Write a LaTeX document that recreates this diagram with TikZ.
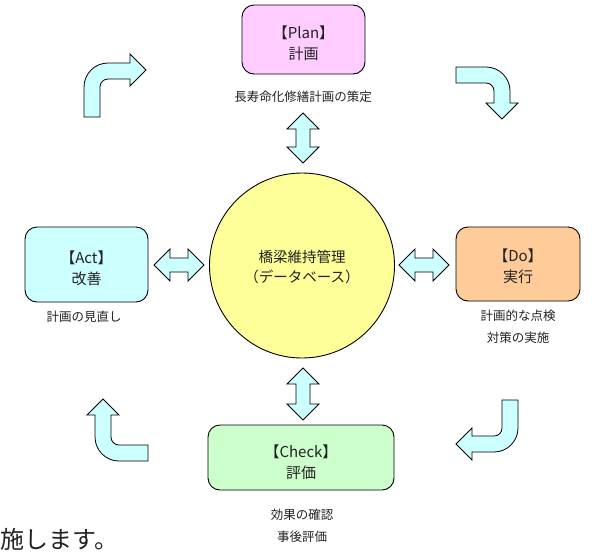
\documentclass[tikz,border=0pt]{standalone}
\usepackage{fontspec}
\setmainfont{Noto Sans CJK JP}
\definecolor{planc}{HTML}{FFCCFF}
\definecolor{actc}{HTML}{CCFFFF}
\definecolor{doc}{HTML}{FFCC99}
\definecolor{checkc}{HTML}{CCFFCC}
\definecolor{circc}{HTML}{FFFF99}
\definecolor{arrowc}{HTML}{CCFFFF}
\definecolor{txtc}{HTML}{222222}
\begin{document}
\begin{tikzpicture}[x=1pt,y=-1pt,
  box/.style={draw=black, line width=0.9pt, rounded corners=12pt, inner sep=0pt},
  boxtext/.style={align=center, font=\fontsize{15}{21}\selectfont, text=txtc, inner sep=0pt},
  lbl/.style={align=center, font=\fontsize{12.5}{22}\selectfont, text=txtc, inner sep=0pt},
  blk/.style={draw=black, line width=0.8pt, fill=arrowc, line join=miter}]
\useasboundingbox (0,0) rectangle (604,552);

% boxes
\node[box, fill=planc, minimum width=123pt, minimum height=69pt] (plan) at (303.5,39.5) {};
\node[boxtext] (plant) at ([yshift=-3.5pt]plan.center) {【Plan】\\計画};
\node[box, fill=actc, minimum width=123pt, minimum height=75pt] (act) at (86.5,264.5) {};
\node[boxtext] (actt) at ([yshift=-4pt]act.center) {【Act】\\改善};
\node[box, fill=doc, minimum width=124pt, minimum height=74pt] (do) at (518,264) {};
\node[boxtext] (dot) at ([yshift=-2pt]do.center) {【Do】\\実行};
\node[box, fill=checkc, minimum width=186pt, minimum height=65pt] (check) at (301,457.5) {};
\node[boxtext] (checkt) at ([yshift=-4.5pt]check.center) {【Check】\\評価};

% center circle
\node[circle, draw=black, line width=0.9pt, fill=circc, minimum size=185pt, inner sep=0pt] (db) at (302,265.5) {};
\node[boxtext, font=\fontsize{14.5}{20}\selectfont] (dbt) at ([yshift=-2pt]db.center) {橋梁維持管理\\（データベース）};

% labels
\node[lbl] (planl) at (303,97) {長寿命化修繕計画の策定};
\node[lbl] (actl) at (84,317) {計画の見直し};
\node[lbl] (dol) at (518,327) {計画的な点検\\対策の実施};
\node[lbl] (checkl) at (302,526) {効果の確認\\事後評価};

% double arrows
\path[blk] (399,265) -- (415,249) -- (415,258) -- (433,258) -- (433,249) -- (449,265)
  -- (433,281) -- (433,272) -- (415,272) -- (415,281) -- cycle;
\path[blk] (154,265) -- (170,249) -- (170,258) -- (188,258) -- (188,249) -- (204,265)
  -- (188,281) -- (188,272) -- (170,272) -- (170,281) -- cycle;
\path[blk] (303,113) -- (319,129) -- (310,129) -- (310,147) -- (319,147) -- (303,163)
  -- (287,147) -- (296,147) -- (296,129) -- (287,129) -- cycle;
\path[blk] (303,368) -- (319,384) -- (310,384) -- (310,404) -- (319,404) -- (303,420)
  -- (287,404) -- (296,404) -- (296,384) -- (287,384) -- cycle;

% curved cycle arrows
\path[blk] (84,117) -- (84,87) .. controls (84,73.75) and (94.75,63) .. (108,63)
  -- (130,63) -- (130,54) -- (146,70) -- (130,86) -- (130,79) -- (108,79)
  .. controls (103.58,79) and (100,82.58) .. (100,87) -- (100,117) -- cycle;
\path[blk] (456,67) -- (486,67) .. controls (499.25,67) and (510,77.75) .. (510,91)
  -- (510,103) -- (518,103) -- (502,119) -- (486,103) -- (494,103) -- (494,91)
  .. controls (494,86.58) and (490.42,83) .. (486,83) -- (456,83) -- cycle;
\path[blk] (502,400) -- (518,400) -- (518,428) .. controls (518,441.25) and (507.25,452) .. (494,452)
  -- (472,452) -- (472,460) -- (456,444) -- (472,428) -- (472,436) -- (494,436)
  .. controls (498.42,436) and (502,432.42) .. (502,428) -- cycle;
\path[blk] (103,399) -- (119,415) -- (111,415) -- (111,437) .. controls (111,441.42) and (114.58,445) .. (119,445)
  -- (148,445) -- (148,461) -- (119,461) .. controls (105.75,461) and (95,450.25) .. (95,437)
  -- (95,415) -- (87,415) -- cycle;

% page text below the diagram
\node[anchor=west, inner sep=0pt, font=\fontsize{24}{24}\selectfont, text=txtc] (tail) at (0.5,539) {施します。};
\end{tikzpicture}
\end{document}
